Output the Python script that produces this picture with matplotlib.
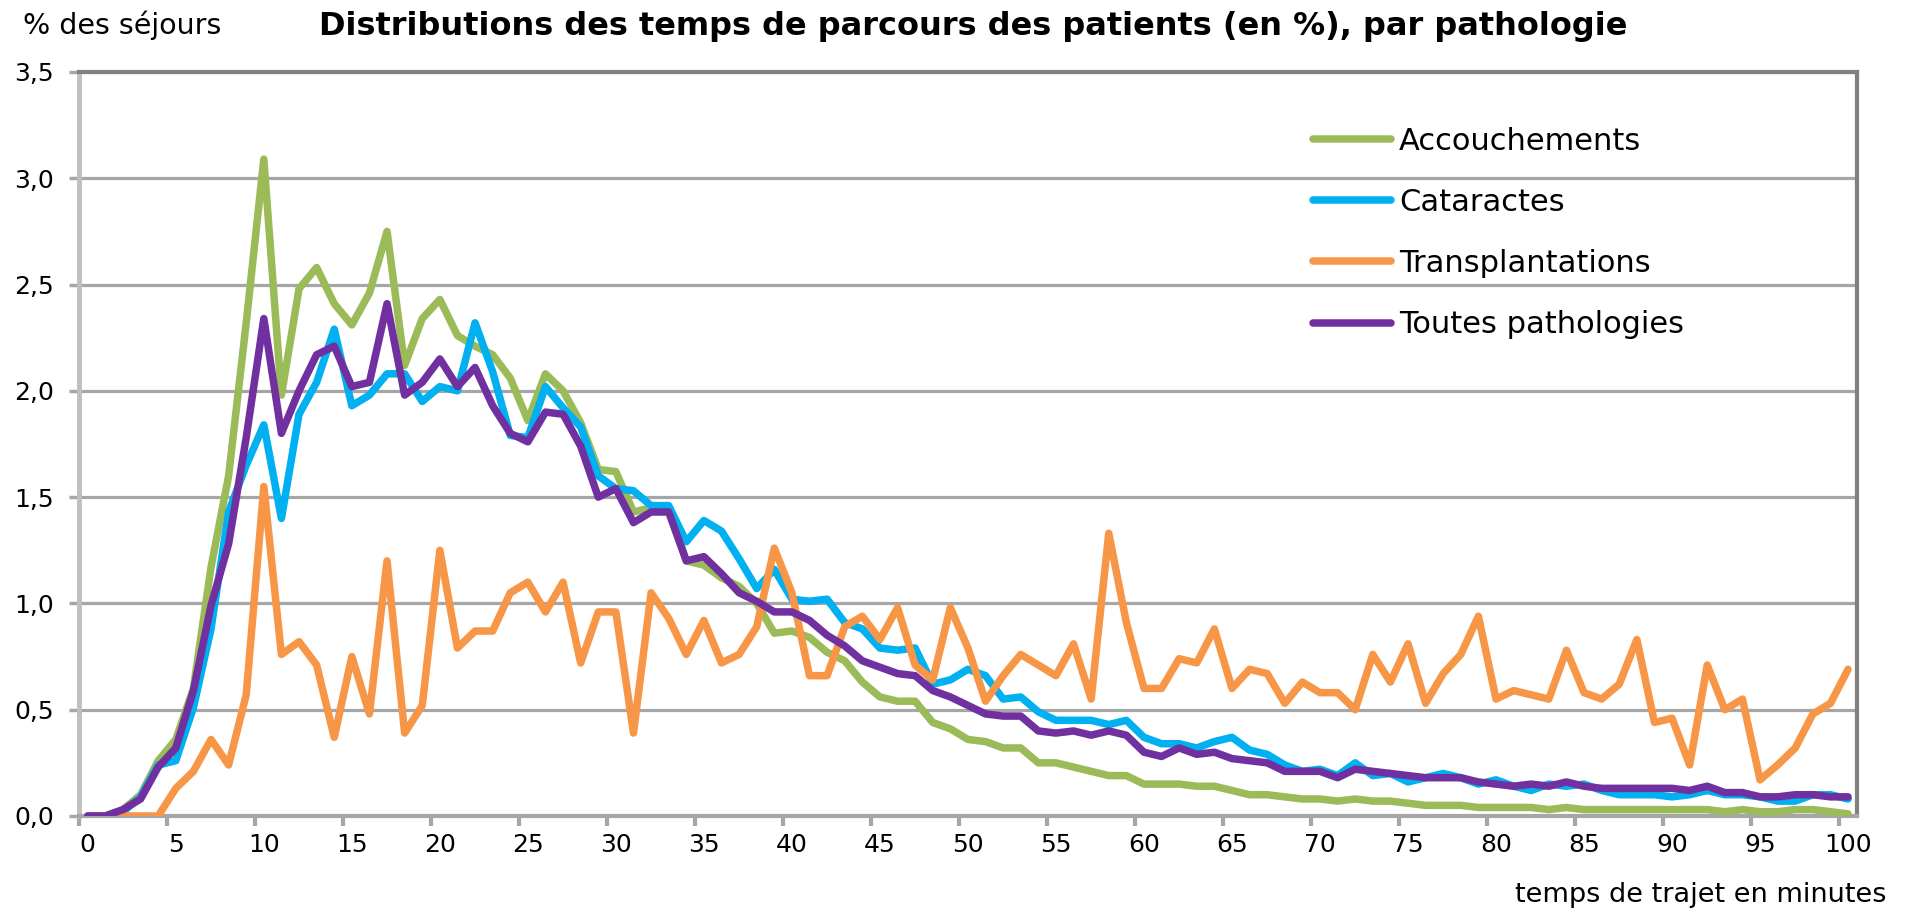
import numpy as np
import matplotlib
matplotlib.use("Agg")
import matplotlib.pyplot as plt

# the reference text is wide (stretched Arial); DejaVu Sans is the closest wide sans
plt.rcParams['font.family'] = ['DejaVu Sans']

# temps de trajet (minutes)
minutes = list(range(101))

accouchements = [
    0, 0, 0.03, 0.10, 0.26, 0.36, 0.60, 1.17, 1.60, 2.32,
    3.09, 1.98, 2.48, 2.58, 2.41, 2.31, 2.46, 2.75, 2.12, 2.34,
    2.43, 2.26, 2.21, 2.17, 2.06, 1.86, 2.08, 2.00, 1.85, 1.63,
    1.62, 1.43, 1.45, 1.45, 1.20, 1.18, 1.12, 1.08, 1.00, 0.86,
    0.87, 0.84, 0.77, 0.73, 0.63, 0.56, 0.54, 0.54, 0.44, 0.41,
    0.36, 0.35, 0.32, 0.32, 0.25, 0.25, 0.23, 0.21, 0.19, 0.19,
    0.15, 0.15, 0.15, 0.14, 0.14, 0.12, 0.10, 0.10, 0.09, 0.08,
    0.08, 0.07, 0.08, 0.07, 0.07, 0.06, 0.05, 0.05, 0.05, 0.04,
    0.04, 0.04, 0.04, 0.03, 0.04, 0.03, 0.03, 0.03, 0.03, 0.03,
    0.03, 0.03, 0.03, 0.02, 0.03, 0.02, 0.02, 0.03, 0.03, 0.02,
    0.01]

cataractes = [
    0, 0, 0.02, 0.09, 0.24, 0.26, 0.51, 0.88, 1.43, 1.65,
    1.84, 1.40, 1.89, 2.04, 2.29, 1.93, 1.98, 2.08, 2.08, 1.95,
    2.02, 2.00, 2.32, 2.09, 1.79, 1.78, 2.02, 1.92, 1.83, 1.60,
    1.54, 1.53, 1.46, 1.46, 1.29, 1.39, 1.34, 1.21, 1.07, 1.16,
    1.02, 1.01, 1.02, 0.91, 0.88, 0.79, 0.78, 0.79, 0.62, 0.64,
    0.69, 0.66, 0.55, 0.56, 0.49, 0.45, 0.45, 0.45, 0.43, 0.45,
    0.37, 0.34, 0.34, 0.32, 0.35, 0.37, 0.31, 0.29, 0.24, 0.21,
    0.22, 0.19, 0.25, 0.19, 0.20, 0.16, 0.18, 0.20, 0.18, 0.15,
    0.17, 0.14, 0.12, 0.15, 0.14, 0.15, 0.12, 0.10, 0.10, 0.10,
    0.09, 0.10, 0.12, 0.10, 0.10, 0.09, 0.07, 0.07, 0.10, 0.10,
    0.08]

transplantations = [
    0, 0, 0, 0, 0, 0.13, 0.21, 0.36, 0.24, 0.57,
    1.55, 0.76, 0.82, 0.71, 0.37, 0.75, 0.48, 1.20, 0.39, 0.52,
    1.25, 0.79, 0.87, 0.87, 1.05, 1.10, 0.96, 1.10, 0.72, 0.96,
    0.96, 0.39, 1.05, 0.93, 0.76, 0.92, 0.72, 0.76, 0.89, 1.26,
    1.05, 0.66, 0.66, 0.89, 0.94, 0.83, 0.98, 0.71, 0.64, 0.98,
    0.79, 0.54, 0.66, 0.76, 0.71, 0.66, 0.81, 0.55, 1.33, 0.91,
    0.60, 0.60, 0.74, 0.72, 0.88, 0.60, 0.69, 0.67, 0.53, 0.63,
    0.58, 0.58, 0.50, 0.76, 0.63, 0.81, 0.53, 0.67, 0.76, 0.94,
    0.55, 0.59, 0.57, 0.55, 0.78, 0.58, 0.55, 0.62, 0.83, 0.44,
    0.46, 0.24, 0.71, 0.50, 0.55, 0.17, 0.24, 0.32, 0.48, 0.53,
    0.69]

toutes = [
    0, 0, 0.03, 0.08, 0.23, 0.32, 0.59, 0.99, 1.28, 1.78,
    2.34, 1.80, 2.00, 2.17, 2.21, 2.02, 2.04, 2.41, 1.98, 2.04,
    2.15, 2.02, 2.11, 1.93, 1.80, 1.76, 1.90, 1.89, 1.74, 1.50,
    1.54, 1.38, 1.43, 1.43, 1.20, 1.22, 1.14, 1.05, 1.01, 0.96,
    0.96, 0.92, 0.85, 0.80, 0.73, 0.70, 0.67, 0.66, 0.59, 0.56,
    0.52, 0.48, 0.47, 0.47, 0.40, 0.39, 0.40, 0.38, 0.40, 0.38,
    0.30, 0.28, 0.32, 0.29, 0.30, 0.27, 0.26, 0.25, 0.21, 0.21,
    0.21, 0.18, 0.22, 0.21, 0.20, 0.19, 0.18, 0.18, 0.18, 0.16,
    0.15, 0.14, 0.15, 0.14, 0.16, 0.14, 0.13, 0.13, 0.13, 0.13,
    0.13, 0.12, 0.14, 0.11, 0.11, 0.09, 0.09, 0.10, 0.10, 0.09,
    0.09]

series = [
    ("Accouchements", accouchements, "#9BBB59"),
    ("Cataractes", cataractes, "#00B0F0"),
    ("Transplantations", transplantations, "#F79646"),
    ("Toutes pathologies", toutes, "#7030A0"),
]

fig = plt.figure(figsize=(19.08, 9.11), dpi=100)
ax = fig.add_axes([0.0414, 0.1043, 0.9318, 0.8167])

for label, vals, col in series:
    ax.plot(minutes, vals, color=col, lw=5.4, label=label,
            solid_joinstyle='round', solid_capstyle='round', zorder=3)

ax.set_xlim(-0.5, 100.5)
ax.set_ylim(0, 3.5)

# y axis
yt = np.arange(0, 3.51, 0.5)
ax.set_yticks(yt)
ax.set_yticklabels([f"{v:.1f}".replace('.', ',') for v in yt], fontsize=18)
ax.tick_params(axis='y', length=7, width=2.5, color='#A6A6A6', pad=11)
ax.grid(axis='y', color='#A6A6A6', lw=2.3, zorder=1)

# x axis: ticks between categories, labels every 5
ax.set_xticks(np.arange(-0.5, 100, 5))
ax.set_xticklabels([])
ax.tick_params(axis='x', which='major', length=7, width=3, color='#A6A6A6')
ax.set_xticks(np.arange(0, 101, 5), minor=True)
ax.set_xticklabels([str(v) for v in range(0, 101, 5)], minor=True, fontsize=18)
ax.tick_params(axis='x', which='minor', length=0, pad=12)

ax.spines['left'].set_color('#BFBFBF')
ax.spines['left'].set_linewidth(3.5)
ax.spines['bottom'].set_color('#A6A6A6')
ax.spines['bottom'].set_linewidth(3)
ax.spines['top'].set_color('#808080')
ax.spines['top'].set_linewidth(3)
ax.spines['right'].set_color('#808080')
ax.spines['right'].set_linewidth(3)

ax.legend(loc='upper left', bbox_to_anchor=(0.694, 0.926), frameon=False,
          fontsize=22, handlelength=2.55, handletextpad=0.27, labelspacing=1.05,
          borderpad=0, borderaxespad=0)

fig.text(0.51, 0.9616, "Distributions des temps de parcours des patients (en %), par pathologie",
         ha='center', va='baseline', fontsize=23, fontweight='bold')
fig.text(0.012, 0.963, "% des séjours", ha='left', va='baseline', fontsize=20.5)
fig.text(0.9885, 0.0095, "temps de trajet en minutes", ha='right', va='baseline', fontsize=19.5)

fig.savefig("out.png", dpi=100)
